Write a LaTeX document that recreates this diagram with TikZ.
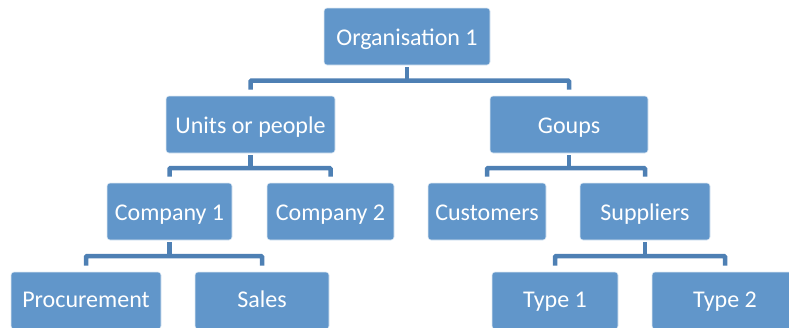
\documentclass[tikz,border=0pt]{standalone}
\usepackage{fontspec}
\setmainfont{Carlito}
\definecolor{boxblue}{RGB}{97,150,202}
\definecolor{connblue}{RGB}{78,128,180}
\tikzset{
  orgbox/.style={rectangle, rounded corners=3pt, fill=boxblue, draw=white!80!boxblue, line width=0.6pt,
    text=white, font=\fontsize{24}{28}\selectfont, minimum height=57pt, inner sep=0pt,
    text height=20pt, text depth=3pt},
  lowbox/.style={orgbox, text height=18pt, text depth=5pt},
  conn/.style={draw=connblue, line width=4.5pt, rounded corners=1pt}
}
\newcommand\branch[3]{%
  \path (#1.south) -- (#2.north) coordinate[pos=0.5] (m#1);
  \draw[conn] ([yshift=-2pt]#1.south) -- (#1.south |- m#1);
  \draw[conn] ([yshift=6pt]#2.north) |- (m#1) -| ([yshift=6pt]#3.north);
}
\begin{document}
\begin{tikzpicture}[x=1pt,y=-1pt]
\useasboundingbox (0,0) rectangle (789,327);
\clip (0,0) rectangle (789,327);
\node[orgbox, minimum width=166pt] (org) at (407,36.5) {Organisation 1};
\node[orgbox, minimum width=169pt] (units) at (250.5,124.5) {Units or people};
\node[orgbox, minimum width=158pt] (goups) at (569,124.5) {Goups};
\node[orgbox, minimum width=125pt] (comp1) at (169.5,211.5) {Company 1};
\node[orgbox, minimum width=127pt] (comp2) at (330.5,211.5) {Company 2};
\node[orgbox, minimum width=118pt] (cust) at (487,211.5) {Customers};
\node[orgbox, minimum width=130pt] (supp) at (645,211.5) {Suppliers};
\node[lowbox, minimum width=150pt] (proc) at (86,300.5) {Procurement};
\node[lowbox, minimum width=134pt] (sales) at (262,300.5) {Sales};
\node[lowbox, minimum width=126pt] (type1) at (555,300.5) {Type 1};
\node[lowbox, minimum width=146pt] (type2) at (725,300.5) {Type 2};
\branch{org}{units}{goups}
\branch{units}{comp1}{comp2}
\branch{goups}{cust}{supp}
\branch{comp1}{proc}{sales}
\branch{supp}{type1}{type2}
\end{tikzpicture}
\end{document}
